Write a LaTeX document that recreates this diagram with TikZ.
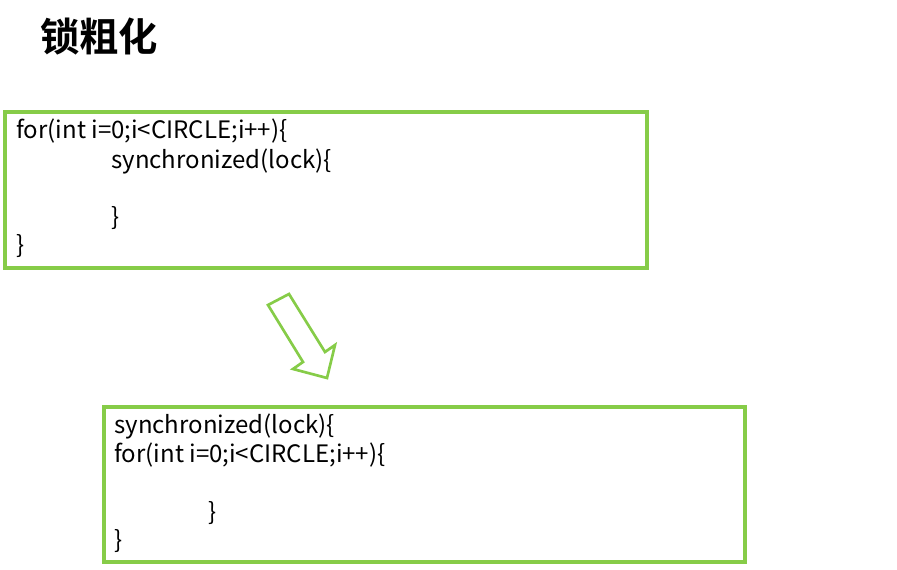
\documentclass[tikz,border=0pt]{standalone}
\usepackage{fontspec}
\setmainfont{Noto Sans CJK SC}
\newfontfamily\cjkbold{Noto Sans CJK SC Bold}
\usepackage{tikz}
\usetikzlibrary{positioning}
\definecolor{boxgreen}{RGB}{134,204,72}

\begin{document}
\begin{tikzpicture}[x=0.75pt,y=-0.75pt,font=\fontsize{18}{20}\selectfont,
  codebox/.style={draw=boxgreen,line width=2.5pt},
  codeline/.style={anchor=base west,inner sep=0pt}]
  \useasboundingbox (0,0) rectangle (897,570);
  \node[anchor=base west,inner sep=0pt,font=\cjkbold\fontsize{29.5}{30}\selectfont] (title) at (40,52) {锁粗化};
  % before: lock inside the loop
  \draw[codebox] (5,112) rectangle (647,268);
  \foreach \i/\x/\y/\txt in {1/16/139/{for(int i=0;i<CIRCLE;i++)\{},
      2/111/169/{synchronized(lock)\{},
      3/111/226/{\}},
      4/16/254/{\}}}
    \node[codeline] (before\i) at (\x,\y) {\txt};
  % hollow arrow
  \draw[boxgreen,line width=2pt,line join=miter]
    (268,305) -- (289,294) -- (325,352) -- (335,345) -- (327,378)
    -- (293,369) -- (303,362) -- cycle;
  % after: lock outside the loop
  \draw[codebox] (104,407) rectangle (745,562);
  \foreach \i/\x/\y/\txt in {1/114/434/{synchronized(lock)\{},
      2/114/463/{for(int i=0;i<CIRCLE;i++)\{},
      3/208/520/{\}},
      4/114/548/{\}}}
    \node[codeline] (after\i) at (\x,\y) {\txt};
\end{tikzpicture}
\end{document}
